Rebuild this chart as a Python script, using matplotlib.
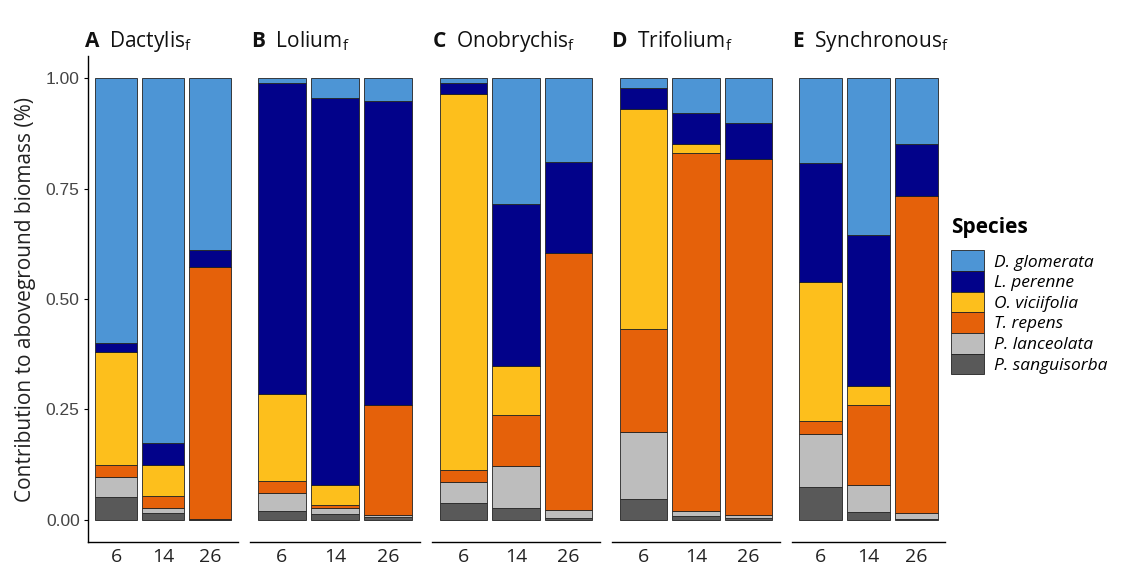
import numpy as np
import matplotlib
matplotlib.use("Agg")
import matplotlib.pyplot as plt
from matplotlib.patches import Patch

plt.rcParams['font.family'] = ['Open Sans', 'DejaVu Sans']
plt.rcParams['mathtext.fontset'] = 'custom'
plt.rcParams['mathtext.rm'] = 'Open Sans'
plt.rcParams['mathtext.it'] = 'Open Sans:italic'
plt.rcParams['mathtext.bf'] = 'Open Sans:bold'

# harvest (weeks) and species, bottom of stack first
weeks = ["6", "14", "26"]
species = ["P. sanguisorba", "P. lanceolata", "T. repens",
           "O. viciifolia", "L. perenne", "D. glomerata"]
colors = ["#595959", "#bdbdbd", "#e5610a", "#fdbf1c", "#02028a", "#4d95d5"]

panel_letters = ["A", "B", "C", "D", "E"]
panel_names = ["Dactylis", "Lolium", "Onobrychis", "Trifolium", "Synchronous"]

# share of each species per harvest (weeks 6, 14, 26)
dactylis = {
    "P. sanguisorba": [0.052, 0.016, 0.000],
    "P. lanceolata":  [0.044, 0.010, 0.002],
    "T. repens":      [0.029, 0.029, 0.571],
    "O. viciifolia":  [0.255, 0.070, 0.000],
    "L. perenne":     [0.020, 0.049, 0.039],
    "D. glomerata":   [0.600, 0.826, 0.388],
}
lolium = {
    "P. sanguisorba": [0.020, 0.014, 0.006],
    "P. lanceolata":  [0.042, 0.012, 0.006],
    "T. repens":      [0.026, 0.008, 0.247],
    "O. viciifolia":  [0.197, 0.046, 0.000],
    "L. perenne":     [0.705, 0.874, 0.690],
    "D. glomerata":   [0.010, 0.046, 0.051],
}
onobrychis = {
    "P. sanguisorba": [0.039, 0.026, 0.004],
    "P. lanceolata":  [0.047, 0.096, 0.018],
    "T. repens":      [0.026, 0.115, 0.582],
    "O. viciifolia":  [0.853, 0.111, 0.000],
    "L. perenne":     [0.025, 0.367, 0.207],
    "D. glomerata":   [0.010, 0.285, 0.189],
}
trifolium = {
    "P. sanguisorba": [0.048, 0.008, 0.004],
    "P. lanceolata":  [0.151, 0.012, 0.006],
    "T. repens":      [0.232, 0.811, 0.807],
    "O. viciifolia":  [0.499, 0.020, 0.000],
    "L. perenne":     [0.048, 0.069, 0.081],
    "D. glomerata":   [0.022, 0.080, 0.102],
}
synchronous = {
    "P. sanguisorba": [0.074, 0.018, 0.002],
    "P. lanceolata":  [0.121, 0.060, 0.014],
    "T. repens":      [0.030, 0.181, 0.716],
    "O. viciifolia":  [0.314, 0.045, 0.000],
    "L. perenne":     [0.268, 0.341, 0.119],
    "D. glomerata":   [0.193, 0.355, 0.149],
}
panels = [dactylis, lolium, onobrychis, trifolium, synchronous]

W, H = 1121, 577
fig = plt.figure(figsize=(W / 100, H / 100), dpi=100)

# panel extents in pixels (left, right); y from 1.05 at 56px down to -0.05 at 542px
extents = [(88, 238), (250, 420), (432, 600), (612, 780), (792, 945)]
title_x = [84, 251, 432, 611, 792]
y_top, y_bot = 56, 542

x = np.arange(1, 4)
for i, (data, (l, r)) in enumerate(zip(panels, extents)):
    ax = fig.add_axes([l / W, (H - y_bot) / H, (r - l) / W, (y_bot - y_top) / H])
    bottom = np.zeros(3)
    for sp, c in zip(species, colors):
        v = np.array(data[sp])
        ax.bar(x, v, 0.9, bottom=bottom, color=c, edgecolor="#222222",
               linewidth=0.6)
        bottom += v
    ax.set_xlim(0.4, 3.6)
    ax.set_ylim(-0.05, 1.05)
    ax.set_xticks(x)
    ax.set_xticklabels(weeks, fontsize=14, color="#222222")
    ax.tick_params(axis="x", length=0, pad=4)
    for s in ["top", "right"]:
        ax.spines[s].set_visible(False)
    ax.spines["bottom"].set_linewidth(1.0)
    if i == 0:
        ax.set_yticks([0, 0.25, 0.5, 0.75, 1.0])
        ax.set_yticklabels(["0.00", "0.25", "0.50", "0.75", "1.00"],
                           fontsize=12.5, color="#444444",
                           family="Liberation Sans")
        ax.tick_params(axis="y", length=3, width=0.8, pad=3)
        ax.spines["left"].set_linewidth(1.0)
        ax.set_ylabel("Contribution to aboveground biomass (%)", fontsize=15,
                      color="#222222", labelpad=7)
    else:
        ax.spines["left"].set_visible(False)
        ax.set_yticks([])
    fig.text(title_x[i] / W, 1 - 47 / H,
             r"$\mathbf{%s}$  %s$_\mathrm{f}$" % (panel_letters[i], panel_names[i]),
             fontsize=15, ha="left", va="baseline", color="#111111")

handles = [Patch(facecolor=c, edgecolor="#222222", linewidth=0.6)
           for c in colors[::-1]]
leg = fig.legend(handles, species[::-1], loc="upper left",
                 bbox_to_anchor=(944 / W, 1 - 210 / H), frameon=False,
                 title="Species", title_fontproperties={"weight": "bold", "size": 15},
                 prop={"style": "italic", "size": 12.5},
                 handlelength=1.9, handleheight=1.45, labelspacing=0.0,
                 handletextpad=0.6, borderaxespad=0)
leg._legend_box.align = "left"
leg._legend_box.sep = 9

fig.savefig("out.png", dpi=100)
